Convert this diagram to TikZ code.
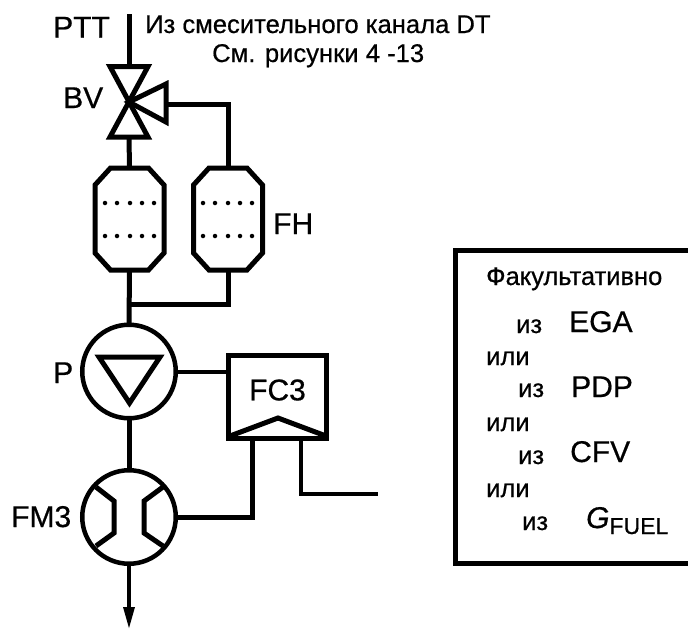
\documentclass[tikz,border=0pt]{standalone}
\usepackage{fontspec}
\setmainfont{Liberation Sans}
\newfontfamily\heavy[FakeBold=0.6]{Liberation Sans}
\usetikzlibrary{arrows.meta}
\tikzset{
  pipe/.style={line width=5pt,line join=miter},
  thinpipe/.style={line width=4pt},
  circ/.style={circle,draw,line width=4.5pt,minimum size=93.5pt,inner sep=0pt,outer sep=0pt},
  filt/.style={minimum width=69pt,minimum height=102pt,inner sep=0pt,outer sep=0pt},
  octo/.style={line width=5pt,line join=miter},
  lbl/.style={inner sep=0pt,font=\fontsize{30}{32}\heavy},
  note/.style={inner sep=0pt,font=\fontsize{25.6}{28}\heavy},
  legend/.style={inner sep=0pt,anchor=base west,font=\fontsize{25.5}{28}\heavy},
  legbig/.style={inner sep=0pt,anchor=base west,font=\fontsize{30}{32}\heavy},
  dotm/.style={circle,fill,inner sep=0pt,minimum size=4.5pt},
}
\begin{document}
\begin{tikzpicture}[x=1pt,y=-1pt]
\useasboundingbox (0,0) rectangle (688,629);
% coordinates
\coordinate (top) at (129,14);
\coordinate (vt) at (129,66);
\coordinate (vb) at (129,137);
\coordinate (join) at (129,304);
\coordinate (out) at (378,494);
\coordinate (end) at (129,628);
\node[filt] (f1) at (129.5,219) {};
\node[filt] (f2) at (228,219) {};
\node[circ] (P) at (129,371.5) {};
\node[circ] (FM) at (129,517) {};
\node[draw,line width=5pt,minimum width=98pt,minimum height=83pt,inner sep=0pt,outer sep=0pt] (FC) at (277.5,396.5) {};
% filters
\foreach \n in {f1,f2} {
  \draw[octo,shift={(\n.center)}] (-19,-51) -- (19,-51) -- (34.5,-34) -- (34.5,34) -- (19,51) -- (-19,51) -- (-34.5,34) -- (-34.5,-34) -- cycle;
}
% valve
\draw[pipe] (110,66.5) -- (148,66.5) -- (110,137) -- (148,137) -- cycle;
\draw[pipe] (129,102) -- (166,84) -- (166,122) -- cycle;
% connectors
\draw[pipe] (top) -- (vt);
\draw[pipe] (vb) -- (f1.north);
\draw[pipe] (166,104) -| (f2.north);
\draw[pipe] (f1.south) -- (P.north);
\draw[pipe] (f2.south) |- (join);
\draw[pipe] (P.south) -- (FM.north);
\draw[thinpipe] (P.east) -- (FC.west |- P.east);
\draw[pipe] (FM.east) -| (252,438);
\draw[thinpipe] (301,438) |- (out);
\draw[line width=3.5pt] (FM.south) -- (129,610);
\fill (123,607) -- (135,607) -- (end) -- cycle;
% filter dots
\foreach \y in {203,236} {
  \foreach \x in {105,117,130,142,154} {\node[dotm] (d1\x\y) at (\x,\y) {};}
  \foreach \x in {203,215,228,240,252} {\node[dotm] (d2\x\y) at (\x,\y) {};}
}
% pump triangle
\draw[pipe] (99,357) -- (160,357) -- (129.5,403) -- cycle;
% flow meter
\draw[pipe] (96,487) -- (114,501) -- (114,533) -- (96,546);
\draw[pipe] (163,487) -- (144,501) -- (144,533) -- (163,546);
% FC3 chevron
\draw[pipe] (230,436) -- (278,418) -- (326,436);
\node[inner sep=0pt,font=\fontsize{30}{32}\heavy] (fc3) at (277.5,390) {FC3};
% labels
\node[lbl,anchor=base west] (ptt) at (53,37.5) {PTT};
\node[lbl,anchor=base west] (bv) at (63,108) {BV};
\node[lbl,anchor=base west] (fh) at (273,234) {FH};
\node[lbl,anchor=base west] (pl) at (53,383) {P};
\node[lbl,anchor=base west] (fm3) at (11,527) {FM3};
\node[note,anchor=base west] (n1) at (145,33) {Из смесительного канала DT};
\node[note,anchor=base west] (n2) at (212,62) {См. рисунки 4 -13};
% legend
\draw[pipe] (688,250) -- (455,250) -- (455,563) -- (688,563);
\node[legend] (a) at (486,285) {Факультативно};
\node[legend] (b1) at (516,333) {из};
\node[legbig] (b2) at (569,332) {EGA};
\node[legend] (c1) at (486,365) {или};
\node[legend] (d1) at (518,397) {из};
\node[legbig] (d2) at (571,397) {PDP};
\node[legend] (e1) at (486,431) {или};
\node[legend] (f1t) at (518,464) {из};
\node[legbig] (f2t) at (570,462) {CFV};
\node[legend] (g1) at (486,497) {или};
\node[legend] (h1) at (522,530) {из};
\node[legbig] (h2) at (586,528) {\textit{G}\raisebox{-6pt}{\fontsize{23}{25}\heavy FUEL}};
\end{tikzpicture}
\end{document}
